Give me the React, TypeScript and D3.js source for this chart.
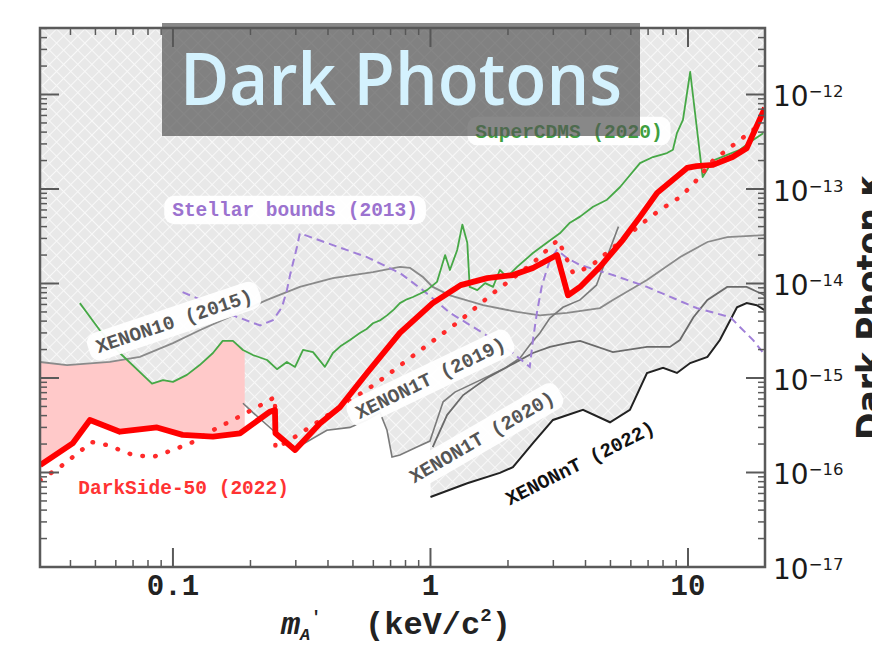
import React from "react";
import * as d3 from "d3";

// ---------- data (mass in keV/c^2, kinetic mixing kappa) ----------
const xTickLabels = [
  { value: 0.1, label: "0.1" },
  { value: 1, label: "1" },
  { value: 10, label: "10" },
];
const yTickExponents = [-17, -16, -15, -14, -13, -12];

const darkSide50: [number, number][] = [
  [0.0305, 1.2e-16], [0.0409, 2.05e-16], [0.0476, 3.6e-16], [0.0622, 2.7e-16],
  [0.0867, 3.0e-16], [0.109, 2.5e-16], [0.143, 2.4e-16], [0.182, 2.6e-16],
  [0.238, 4.4e-16], [0.249, 4.6e-16], [0.25, 2.6e-16], [0.298, 1.73e-16],
  [0.372, 3.3e-16], [0.445, 4.9e-16], [0.567, 1.13e-15], [0.761, 3.0e-15],
  [1.02, 6.2e-15], [1.31, 9.6e-15], [1.66, 1.14e-14], [2.09, 1.23e-14],
  [2.5, 1.46e-14], [3.1, 2.0e-14], [3.42, 7.5e-15], [3.81, 9.2e-15],
  [4.55, 1.5e-14], [5.59, 2.9e-14], [6.52, 5.1e-14], [7.59, 9.1e-14],
  [9.92, 1.67e-13], [10.8, 1.75e-13], [12.5, 1.8e-13], [14.9, 2.18e-13],
  [16.9, 2.7e-13], [19.9, 7.2e-13],
];

const darkSide50Dotted: [number, number][] = [
  [0.0305, 8.3e-17], [0.0364, 1.14e-16], [0.0484, 2.1e-16], [0.0555, 1.95e-16],
  [0.07, 1.53e-16], [0.0836, 1.46e-16], [0.1, 1.73e-16], [0.1196, 2.1e-16],
  [0.143, 2.8e-16], [0.171, 3.6e-16], [0.212, 4.9e-16], [0.249, 6.3e-16],
  [0.25, 1.8e-16], [0.285, 2.2e-16], [0.62, 8.9e-16], [1.31, 4.1e-15],
  [1.75, 7.9e-15], [2.5, 1.65e-14], [3.13, 2.9e-14], [3.58, 1.29e-14],
  [4.16, 1.5e-14], [6.69, 4.4e-14], [7.78, 6.0e-14], [9.3, 8.2e-14],
  [10.4, 1.1e-13], [12.5, 2.0e-13], [15.9, 3.3e-13], [18.5, 4.5e-13],
];

const superCDMS2020: [number, number][] = [
  [0.0435, 6.2e-15], [0.052, 3.2e-15], [0.0622, 1.84e-15], [0.0829, 8.7e-16],
  [0.0915, 9.5e-16], [0.1, 9.1e-16], [0.1133, 1.08e-15], [0.127, 1.37e-15],
  [0.143, 1.84e-15], [0.156, 2.47e-15], [0.171, 2.47e-15], [0.187, 1.98e-15],
  [0.2045, 1.75e-15], [0.232, 1.55e-15], [0.2535, 1.24e-15], [0.277, 1.48e-15],
  [0.298, 1.31e-15], [0.32, 1.98e-15], [0.35, 1.88e-15], [0.389, 1.31e-15],
  [0.418, 1.84e-15], [0.45, 2.2e-15], [0.487, 2.52e-15], [0.532, 2.99e-15],
  [0.565, 3.3e-15], [0.598, 3.8e-15], [0.64, 4.1e-15], [0.678, 4.6e-15],
  [0.72, 5.3e-15], [0.761, 6.2e-15], [0.81, 6.8e-15], [0.855, 7.2e-15],
  [0.91, 7.8e-15], [0.969, 8.5e-15], [1.06, 1.04e-14], [1.14, 2.0e-14],
  [1.19, 1.39e-14], [1.27, 2.26e-14], [1.33, 4.2e-14], [1.39, 2.7e-14],
  [1.42, 9.2e-15], [1.52, 8.5e-15], [1.63, 1.01e-14], [1.75, 9.2e-15],
  [1.86, 1.39e-14], [1.98, 1.17e-14], [2.17, 1.5e-14], [2.5, 2.1e-14],
  [2.83, 2.7e-14], [3.18, 3.4e-14], [3.48, 4.4e-14], [3.81, 5.1e-14],
  [4.28, 6.5e-14], [4.85, 7.7e-14], [5.45, 1.05e-13], [6.51, 1.88e-13],
  [7.31, 2.18e-13], [8.29, 2.4e-13], [8.74, 2.6e-13], [9.06, 3.9e-13],
  [9.56, 5.4e-13], [10.2, 1.73e-12], [11.4, 1.34e-13], [12.5, 2.0e-13],
  [14.2, 2.3e-13], [15.9, 2.6e-13], [17.9, 3.3e-13], [19.6, 3.9e-13],
];

const stellar2013: [number, number][] = [
  [0.109, 8.1e-15], [0.124, 7.0e-15], [0.171, 4.6e-15], [0.218, 3.6e-15],
  [0.2445, 4.1e-15], [0.265, 5.6e-15], [0.277, 8.5e-15], [0.285, 1.23e-14],
  [0.303, 2.43e-14], [0.311, 3.4e-14], [0.418, 2.55e-14], [0.567, 1.9e-14],
  [0.761, 1.29e-14], [0.935, 8.5e-15], [1.19, 4.9e-15], [1.6, 2.99e-15],
  [2.09, 1.84e-15], [2.43, 1.31e-15], [2.5, 2.52e-15], [2.59, 4.9e-15],
  [2.71, 9.6e-15], [2.91, 1.77e-14], [3.1, 2.26e-14], [3.39, 1.86e-14],
  [3.81, 1.57e-14], [5.11, 1.23e-14], [6.93, 9.2e-15], [10.8, 5.5e-15],
  [14.6, 4.4e-15], [15.9, 3.47e-15], [17.9, 2.52e-15], [19.9, 1.75e-15],
];

const xenon10_2015: [number, number][] = [
  [0.0302, 1.48e-15], [0.0388, 1.37e-15], [0.0569, 1.48e-15], [0.0744, 1.67e-15],
  [0.1, 2.34e-15], [0.127, 3.2e-15], [0.171, 4.6e-15], [0.232, 6.7e-15],
  [0.311, 9.2e-15], [0.418, 1.14e-14], [0.598, 1.32e-14], [0.761, 1.5e-14],
  [0.833, 1.46e-14], [0.935, 1.17e-14], [1.02, 9.2e-15], [1.19, 7.5e-15],
  [1.6, 5.9e-15], [2.17, 5.0e-15], [2.66, 4.6e-15], [3.39, 4.9e-15],
  [4.55, 5.5e-15], [5.11, 6.7e-15], [6.93, 1.09e-14], [9.3, 1.9e-14],
  [11.9, 2.75e-14], [14.2, 3.1e-14], [19.9, 3.26e-14],
];

const xenon1t2019: [number, number][] = [
  [0.187, 5.4e-16], [0.2045, 4.3e-16], [0.2445, 2.8e-16], [0.292, 1.73e-16],
  [0.396, 2.8e-16], [0.487, 3.0e-16], [0.567, 3.6e-16], [0.637, 4.3e-16],
  [0.678, 2.8e-16], [0.709, 1.46e-16], [0.761, 1.53e-16], [0.886, 1.86e-16],
  [0.995, 2.15e-16], [1.06, 3.6e-16], [1.12, 5.6e-16], [1.245, 7.1e-16],
  [1.56, 9.5e-16], [1.95, 1.28e-15], [2.23, 1.63e-15], [2.43, 2.23e-15],
  [2.66, 2.99e-15], [2.91, 4.3e-15], [3.27, 5.6e-15], [3.81, 6.7e-15],
  [4.41, 9.6e-15], [4.83, 1.86e-14], [5.37, 4.0e-14],
];

const xenon1t2020: [number, number][] = [
  [1.02, 1.86e-16], [1.16, 4.05e-16], [1.34, 6.6e-16], [1.66, 1.0e-15],
  [2.09, 1.41e-15], [2.5, 1.84e-15], [2.91, 2.13e-15], [3.39, 2.34e-15],
  [3.81, 2.47e-15], [5.11, 1.88e-15], [6.93, 2.13e-15], [8.51, 2.13e-15],
  [9.3, 2.52e-15], [10.5, 4.4e-15], [11.9, 6.7e-15], [14.2, 9.2e-15],
  [16.9, 9.2e-15], [19.9, 7.5e-15],
];

const xenonnt2022: [number, number][] = [
  [1.0, 5.5e-17], [1.39, 7.7e-17], [1.86, 9.9e-17], [2.09, 1.14e-16],
  [2.5, 2.05e-16], [2.99, 3.6e-16], [3.91, 4.6e-16], [4.98, 3.4e-16],
  [5.95, 4.6e-16], [6.93, 1.13e-15], [8.0, 1.28e-15], [9.06, 1.13e-15],
  [10.2, 1.44e-15], [11.9, 1.67e-15], [13.3, 2.52e-15], [15.5, 5.6e-15],
  [16.9, 6.2e-15], [18.5, 5.9e-15], [19.9, 5.2e-15],
];

// ---------- helpers ----------
function logInterp(data: [number, number][], m: number): number | null {
  if (m < data[0][0] || m > data[data.length - 1][0]) return null;
  for (let i = 0; i < data.length - 1; i++) {
    const a = data[i], b = data[i + 1];
    if (m >= a[0] && m <= b[0]) {
      if (b[0] === a[0]) return Math.min(a[1], b[1]);
      const t = (Math.log10(m) - Math.log10(a[0])) / (Math.log10(b[0]) - Math.log10(a[0]));
      return Math.pow(10, Math.log10(a[1]) + t * (Math.log10(b[1]) - Math.log10(a[1])));
    }
  }
  return null;
}

function minOf(curves: [number, number][][], m: number): number | null {
  let best: number | null = null;
  for (const c of curves) {
    const v = logInterp(c, m);
    if (v !== null && (best === null || v < best)) best = v;
  }
  return best;
}

const MONO = "'Liberation Mono', 'DejaVu Sans Mono', monospace";
const SANS = "'DejaVu Sans', sans-serif";

function Label(props: { cx: number; cy: number; angle: number; text: string; color: string; fs?: number }) {
  const fs = props.fs ?? 19.5;
  const w = props.text.length * 0.6 * fs + 16;
  const h = fs + 9;
  return (
    <g transform={`translate(${props.cx},${props.cy}) rotate(${props.angle})`}>
      <rect x={-w / 2} y={-h / 2} width={w} height={h} rx={10} fill="#ffffff" opacity={0.95} />
      <text x={0} y={fs * 0.33} textAnchor="middle" fontFamily={MONO} fontWeight="bold"
        fontSize={fs} fill={props.color}>{props.text}</text>
    </g>
  );
}

export default function App() {
  const W = 872, H = 652;
  const L = 40, R = 765, T = 28, B = 567;
  const x = d3.scaleLog().domain([0.03046, 19.91]).range([L, R]);
  const y = d3.scaleLog().domain([1e-17, 5.055e-12]).range([B, T]);
  const line = d3.line<[number, number]>().x(d => x(d[0])).y(d => y(d[1]));

  const [m0, m1] = x.domain();
  const N = 900;
  const samples = d3.range(N + 1).map(i => Math.pow(10, Math.log10(m0) + (i / N) * (Math.log10(m1) - Math.log10(m0))));

  const envelopeCurves = [xenon10_2015, superCDMS2020, xenon1t2019, xenon1t2020, xenonnt2022];
  const hatchPts = samples.map(m => [m, minOf(envelopeCurves, m) ?? 1e-10] as [number, number]);
  const hatchArea = d3.area<[number, number]>().x(d => x(d[0])).y0(d => y(d[1])).y1(T);

  const pinkEnd = 0.19;
  const pinkSamples = samples.filter(m => m <= pinkEnd).concat([pinkEnd]);
  const pinkPts = pinkSamples.map(m => ({
    m,
    top: minOf([xenon10_2015, superCDMS2020], m) ?? 1e-15,
    bot: logInterp(darkSide50, m) ?? 1e-16,
  }));
  const pinkArea = d3.area<{ m: number; top: number; bot: number }>()
    .x(d => x(d.m)).y0(d => y(d.bot)).y1(d => y(d.top));

  const xTicks = x.ticks();
  const yTicks = y.ticks();
  const isMajor = (v: number) => Math.abs(Math.log10(v) - Math.round(Math.log10(v))) < 1e-6;

  const axisColor = "#5a5a5a";

  return (
    <svg width={W} height={H} style={{ position: "absolute", left: 0, top: 0, background: "#fff" }}>
      <defs>
        <clipPath id="plotClip">
          <rect x={L} y={T} width={R - L} height={B - T} />
        </clipPath>
        <pattern id="hatch" width={10} height={10} patternUnits="userSpaceOnUse" patternTransform="rotate(45)">
          <rect width={10} height={10} fill="#e8e8e8" />
          <path d="M0 0 H10 M0 0 V10" stroke="#f8f8f8" strokeWidth={2} />
        </pattern>
      </defs>
      <rect x={0} y={0} width={W} height={H} fill="#fff" />

      <g clipPath="url(#plotClip)">
        <path d={hatchArea(hatchPts) ?? ""} fill="url(#hatch)" />
        <path d={pinkArea(pinkPts) ?? ""} fill="#ffc9c9" />

        <path d={line(xenon10_2015) ?? ""} fill="none" stroke="#8a8a8a" strokeWidth={1.8} />
        <path d={line(xenon1t2019) ?? ""} fill="none" stroke="#7a7a7a" strokeWidth={1.6} />
        <path d={line(xenon1t2020) ?? ""} fill="none" stroke="#6a6a6a" strokeWidth={1.8} />
        <path d={line(xenonnt2022) ?? ""} fill="none" stroke="#222" strokeWidth={2} />
        <path d={line(stellar2013) ?? ""} fill="none" stroke="#a07fd8" strokeWidth={2} strokeDasharray="8 5" />
        <path d={line(superCDMS2020) ?? ""} fill="none" stroke="#46a846" strokeWidth={1.8} strokeLinejoin="round" />
        <path d={line(darkSide50Dotted) ?? ""} fill="none" stroke="#ff2a2a" strokeWidth={4.5}
          strokeDasharray="0.5 12.5" strokeLinecap="round" />
        <path d={line(darkSide50) ?? ""} fill="none" stroke="#ff0000" strokeWidth={5.8} strokeLinejoin="round" />

        <Label cx={x(0.101)} cy={y(4.0e-15)} angle={-18.5} text="XENON10 (2015)" color="#555" />
        <Label cx={x(1.0)} cy={y(1.0e-15)} angle={-25.6} text="XENON1T (2019)" color="#555" />
        <Label cx={x(1.585)} cy={y(2.38e-16)} angle={-30} text="XENON1T (2020)" color="#555" />
        <Label cx={x(3.81)} cy={y(1.26e-16)} angle={-26.6} text="XENONnT (2022)" color="#111" />
        <Label cx={x(0.298)} cy={y(6.0e-14)} angle={0} text="Stellar bounds (2013)" color="#9b72cf" />
        <Label cx={x(3.45)} cy={y(4.1e-13)} angle={0} text="SuperCDMS (2020)" color="#3f9f3f" />
        <Label cx={x(0.11)} cy={y(6.9e-17)} angle={0} text="DarkSide-50 (2022)" color="#ff3333" />
      </g>

      {/* ticks */}
      <g stroke={axisColor}>
        {xTicks.map((t, i) => {
          const len = isMajor(t) ? 19 : 7;
          const px = x(t);
          return (
            <g key={"xt" + i}>
              <line x1={px} x2={px} y1={B} y2={B - len} strokeWidth={isMajor(t) ? 2 : 1.5} />
              <line x1={px} x2={px} y1={T} y2={T + len} strokeWidth={isMajor(t) ? 2 : 1.5} />
            </g>
          );
        })}
        {yTicks.map((t, i) => {
          const len = isMajor(t) ? 19 : 7;
          const py = y(t);
          return (
            <g key={"yt" + i}>
              <line x1={L} x2={L + len} y1={py} y2={py} strokeWidth={isMajor(t) ? 2 : 1.5} />
              <line x1={R} x2={R - len} y1={py} y2={py} strokeWidth={isMajor(t) ? 2 : 1.5} />
            </g>
          );
        })}
      </g>
      <rect x={L} y={T} width={R - L} height={B - T} fill="none" stroke={axisColor} strokeWidth={2.5} />

      {/* x tick labels */}
      {xTickLabels.map(t => (
        <text key={t.label} x={x(t.value)} y={595} textAnchor="middle" fontFamily={MONO}
          fontWeight="bold" fontSize={29} fill="#222">{t.label}</text>
      ))}

      {/* y tick labels */}
      {yTickExponents.map(e => (
        <text key={e} x={773} y={y(Math.pow(10, e)) + 11.5} fontFamily={SANS} fontSize={28} fill="#1a1a1a">
          10<tspan dy={-9} fontSize={16.5}>{"\u2212" + Math.abs(e)}</tspan>
        </text>
      ))}

      {/* x axis title */}
      <g fontFamily={MONO} fontWeight="bold" fill="#222">
        <text x={281} y={634} fontSize={32} fontStyle="italic">m</text>
        <text x={300} y={640} fontSize={17} fontStyle="italic">A</text>
        <text x={311} y={622} fontSize={17}>'</text>
        <text x={365} y={634} fontSize={32}>(keV/c<tspan dy={-13} fontSize={19}>2</tspan><tspan dy={13}>)</tspan></text>
      </g>

      {/* right axis title */}
      <text transform="translate(881,440) rotate(-90)" fontFamily={SANS} fontWeight="bold" fontSize={33} fill="#222">
        Dark Photon κ
      </text>

      {/* title box */}
      <rect x={162} y={23} width={478} height={113} fill="#555555" opacity={0.7} />
      <text x={180} y={105} fontFamily="'Open Sans', 'Noto Sans', sans-serif" fontSize={72} fontWeight={600}
        fill="#d4f2fe" textLength={442} lengthAdjust="spacingAndGlyphs">Dark Photons</text>
    </svg>
  );
}
